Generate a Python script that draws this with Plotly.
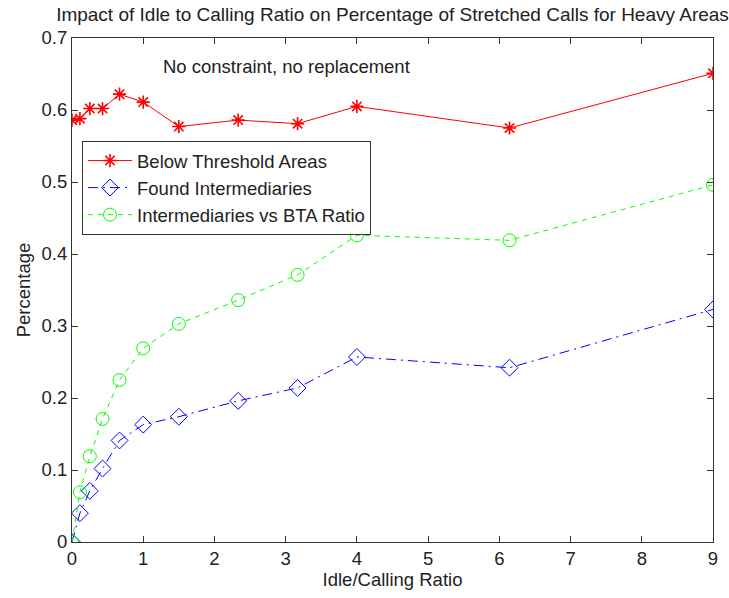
import plotly.graph_objects as go

x_ratio = [0, 0.111, 0.25, 0.429, 0.667, 1, 1.5, 2.333, 3.167, 4, 6.143, 9]
below_threshold = [0.586, 0.588, 0.602, 0.602, 0.622, 0.611, 0.577, 0.586, 0.581, 0.605, 0.575, 0.651]
found_intermediaries = [0.0, 0.040, 0.071, 0.102, 0.141, 0.163, 0.174, 0.196, 0.214, 0.257, 0.242, 0.323]
intermediaries_vs_bta = [0.0, 0.069, 0.119, 0.171, 0.225, 0.269, 0.303, 0.336, 0.371, 0.426, 0.419, 0.496]

x_ticks = [0, 1, 2, 3, 4, 5, 6, 7, 8, 9]
y_ticks = [0, 0.1, 0.2, 0.3, 0.4, 0.5, 0.6, 0.7]
y_tick_labels = ["0", "0.1", "0.2", "0.3", "0.4", "0.5", "0.6", "0.7"]

FONT = "Arial, Liberation Sans, sans-serif"
TXT = "#222222"
FS = 18.5

fig = go.Figure()
fig.add_trace(go.Scatter(
    x=x_ratio, y=below_threshold, name="Below Threshold Areas",
    mode="lines+markers",
    line=dict(color="#ff0000", width=1, dash="solid"),
    marker=dict(symbol="asterisk-open", size=11, color="#ff0000",
                line=dict(color="#ff0000", width=1.6)),
))
fig.add_trace(go.Scatter(
    x=x_ratio, y=found_intermediaries, name="Found Intermediaries",
    mode="lines+markers",
    line=dict(color="#0000ff", width=1, dash="10px,5px,2px,5px"),
    marker=dict(symbol="diamond-open", size=13, color="#0000ff",
                line=dict(color="#0000ff", width=1)),
))
fig.add_trace(go.Scatter(
    x=x_ratio, y=intermediaries_vs_bta, name="Intermediaries vs BTA Ratio",
    mode="lines+markers",
    line=dict(color="#00ff00", width=1, dash="5px,5px"),
    marker=dict(symbol="circle-open", size=13, color="#00ff00",
                line=dict(color="#00ff00", width=1)),
))

fig.add_annotation(
    x=3.01, y=0.66, xref="x", yref="y", text="No constraint, no replacement",
    showarrow=False, font=dict(family=FONT, size=FS, color=TXT),
    xanchor="center", yanchor="middle",
)

axis_common = dict(
    showgrid=False, zeroline=False, showline=True, linecolor="#333333", linewidth=1,
    mirror="ticks", ticks="inside", ticklen=6, tickcolor="#333333", tickwidth=1,
    tickfont=dict(family=FONT, size=FS, color=TXT),
)

fig.update_layout(
    width=729, height=598,
    margin=dict(l=72, r=16, t=38, b=56),
    paper_bgcolor="white", plot_bgcolor="white",
    title=dict(text="Impact of Idle to Calling Ratio on Percentage of Stretched Calls for Heavy Areas",
               x=0.5, xref="paper", xanchor="center", y=1 - 14 / 598, yanchor="middle",
               font=dict(family=FONT, size=19, color=TXT)),
    xaxis=dict(range=[0, 9], tickvals=x_ticks, ticktext=[str(t) for t in x_ticks],
               title=dict(text="Idle/Calling Ratio", font=dict(family=FONT, size=FS, color=TXT), standoff=2),
               **axis_common),
    yaxis=dict(range=[0, 0.7], tickvals=y_ticks, ticktext=y_tick_labels,
               title=dict(text="Percentage", font=dict(family=FONT, size=FS, color=TXT), standoff=6),
               **axis_common),
    legend=dict(x=0.0156, y=0.7956, xanchor="left", yanchor="top",
                bordercolor="#333333", borderwidth=1, bgcolor="white",
                font=dict(family=FONT, size=FS, color=TXT),
                tracegroupgap=0, itemwidth=44),
    showlegend=True,
)

fig.write_html("out.html", config={"displayModeBar": False},
               post_script="document.body.style.margin='0';document.body.style.overflow='hidden';")
